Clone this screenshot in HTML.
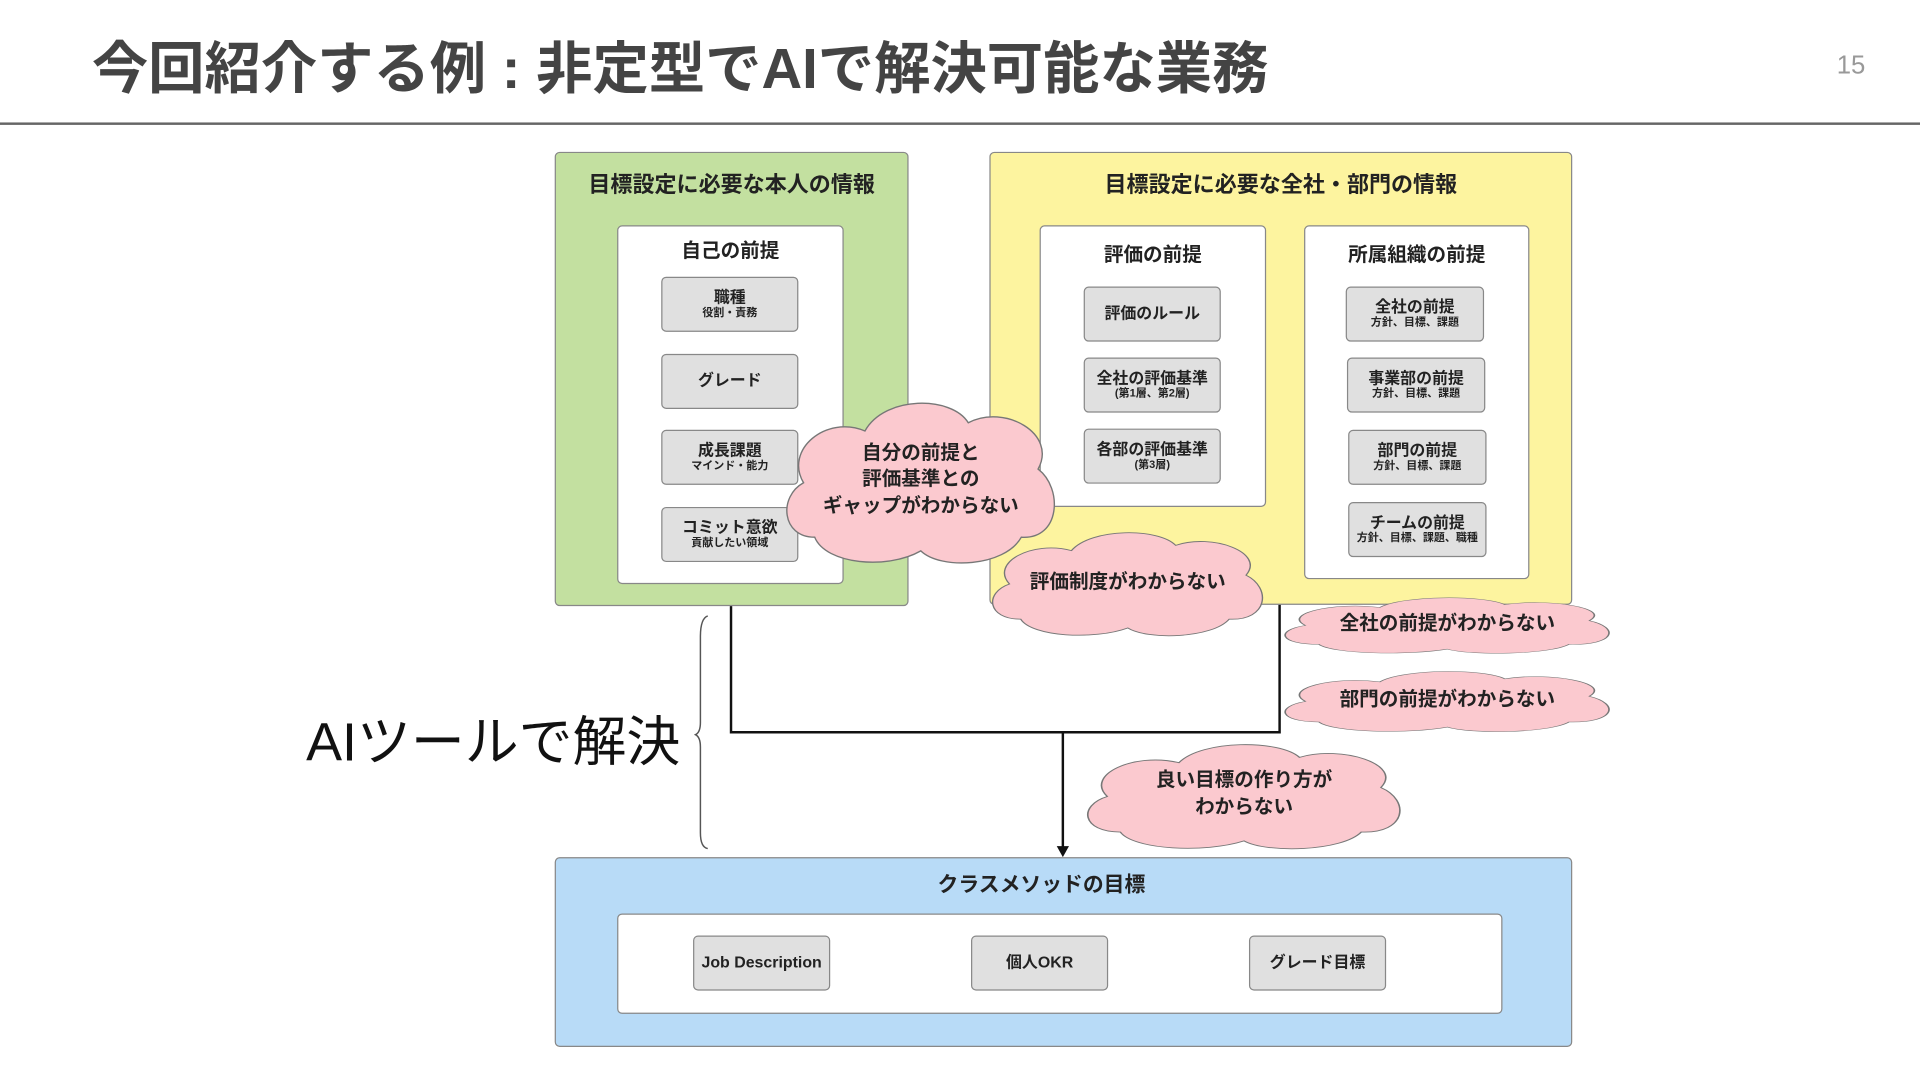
<!DOCTYPE html>
<html><head><meta charset="utf-8">
<style>
html,body{margin:0;padding:0;background:#fff;overflow:hidden;}
#s{position:absolute;left:0;top:0;width:1568px;height:882px;transform:scale(1.22449);transform-origin:0 0;font-family:"Liberation Sans","Noto Sans CJK JP",sans-serif;}
.a{position:absolute;box-sizing:border-box;}
.box{border:1.3px solid #888;border-radius:4px;}
.t{position:absolute;left:0;right:0;text-align:center;font-weight:bold;color:#222;}
.g{position:absolute;box-sizing:border-box;background:#e0e0e0;border:1.3px solid #888;border-radius:4px;display:flex;flex-direction:column;align-items:center;justify-content:center;font-weight:bold;font-size:13px;color:#222;line-height:1.1;}
.g small{font-size:9px;font-weight:bold;}
.c{position:absolute;}
.c svg{position:absolute;left:0;top:0;width:100%;height:100%;}
.c div{position:absolute;left:0;right:0;top:0;bottom:0;display:flex;align-items:center;justify-content:center;text-align:center;font-weight:bold;font-size:16px;color:#222;line-height:1.35;}
</style></head><body>
<div id="s">
<div class="a" style="left:75px;top:20px;font-size:46px;font-weight:bold;color:#444;white-space:nowrap;">今回紹介する例 : 非定型でAIで解決可能な業務</div>
<div class="a" style="left:1500px;top:42px;font-size:21px;color:#999;">15</div>
<div class="a" style="left:0;top:100px;width:1568px;height:1.5px;background:#666;"></div>

<!-- green -->
<div class="a box" style="left:453px;top:124px;width:289px;height:371px;background:#c3e0a0;"></div>
<div class="t" style="left:453px;width:289px;right:auto;top:137px;font-size:18px;">目標設定に必要な本人の情報</div>
<div class="a box" style="left:504px;top:184px;width:185px;height:293px;background:#fff;"></div>
<div class="t" style="left:504px;width:185px;right:auto;top:191px;font-size:16px;">自己の前提</div>
<div class="g" style="left:540px;top:226px;width:112px;height:45px;">職種<small>役割・責務</small></div>
<div class="g" style="left:540px;top:289px;width:112px;height:45px;">グレード</div>
<div class="g" style="left:540px;top:351px;width:112px;height:45px;">成長課題<small>マインド・能力</small></div>
<div class="g" style="left:540px;top:414px;width:112px;height:45px;">コミット意欲<small>貢献したい領域</small></div>

<!-- yellow -->
<div class="a box" style="left:808px;top:124px;width:476px;height:370px;background:#fdf49f;"></div>
<div class="t" style="left:808px;width:476px;right:auto;top:137px;font-size:18px;">目標設定に必要な全社・部門の情報</div>
<div class="a box" style="left:849px;top:184px;width:185px;height:230px;background:#fff;"></div>
<div class="t" style="left:849px;width:185px;right:auto;top:194px;font-size:16px;">評価の前提</div>
<div class="g" style="left:885px;top:234px;width:112px;height:45px;">評価のルール</div>
<div class="g" style="left:885px;top:292px;width:112px;height:45px;">全社の評価基準<small>(第1層、第2層)</small></div>
<div class="g" style="left:885px;top:350px;width:112px;height:45px;">各部の評価基準<small>(第3層)</small></div>
<div class="a box" style="left:1065px;top:184px;width:184px;height:289px;background:#fff;"></div>
<div class="t" style="left:1065px;width:184px;right:auto;top:194px;font-size:16px;">所属組織の前提</div>
<div class="g" style="left:1099px;top:234px;width:113px;height:45px;">全社の前提<small>方針、目標、課題</small></div>
<div class="g" style="left:1100px;top:292px;width:113px;height:45px;">事業部の前提<small>方針、目標、課題</small></div>
<div class="g" style="left:1101px;top:351px;width:113px;height:45px;">部門の前提<small>方針、目標、課題</small></div>
<div class="g" style="left:1101px;top:410px;width:113px;height:45px;">チームの前提<small>方針、目標、課題、職種</small></div>

<!-- connectors -->
<svg class="a" style="left:0;top:0;" width="1568" height="882">
<path d="M597 495 V598 H1045 V494" fill="none" stroke="#111" stroke-width="2"/>
<path d="M868 598 V693" stroke="#111" stroke-width="2"/>
<path d="M863 691 L873 691 L868 700 Z" fill="#111"/>
<path d="M578 503 Q572 505 572 520 L572 590 Q572 598 568 600 Q572 602 572 610 L572 680 Q572 692 578 693" fill="none" stroke="#555" stroke-width="1.2"/>
</svg>
<div class="a" style="left:250px;top:570px;font-size:44px;color:#111;white-space:nowrap;">AIツールで解決</div>

<!-- blue -->
<div class="a box" style="left:453px;top:700px;width:831px;height:155px;background:#b8dbf7;"></div>
<div class="t" style="left:453px;width:795px;right:auto;top:708px;font-size:17px;">クラスメソッドの目標</div>
<div class="a box" style="left:504px;top:746px;width:723px;height:82px;background:#fff;"></div>
<div class="g" style="left:566px;top:764px;width:112px;height:45px;">Job Description</div>
<div class="g" style="left:793px;top:764px;width:112px;height:45px;">個人OKR</div>
<div class="g" style="left:1020px;top:764px;width:112px;height:45px;">グレード目標</div>

<!-- clouds -->
<svg width="0" height="0" style="position:absolute"><defs>
<path id="cl" d="M12 52 C0 52 -1 37 8 32 C1 20 16 7 30 13 C37 0 61 0 67 10 C80 3 99 14 92 27 C101 34 100 53 86 52 C80 63 57 64 50 57 C38 64 16 62 12 52 Z"/>
</defs></svg>
<div class="c" style="left:638px;top:323px;width:228px;height:138px;"><svg viewBox="0 0 100 62" preserveAspectRatio="none"><use href="#cl" fill="#fbc9cf" stroke="#777" stroke-width="0.5" vector-effect="non-scaling-stroke"/></svg><div>自分の前提と<br>評価基準との<br>ギャップがわからない</div></div>
<div class="c" style="left:806px;top:431px;width:230px;height:89px;"><svg viewBox="0 0 100 62" preserveAspectRatio="none"><use href="#cl" fill="#fbc9cf" stroke="#777" stroke-width="0.5" vector-effect="non-scaling-stroke"/></svg><div>評価制度がわからない</div></div>
<div class="c" style="left:1044px;top:486px;width:276px;height:48px;"><svg viewBox="0 0 100 62" preserveAspectRatio="none"><use href="#cl" fill="#fbc9cf" stroke="#777" stroke-width="0.5" vector-effect="non-scaling-stroke"/></svg><div>全社の前提がわからない</div></div>
<div class="c" style="left:1044px;top:546px;width:276px;height:52px;"><svg viewBox="0 0 100 62" preserveAspectRatio="none"><use href="#cl" fill="#fbc9cf" stroke="#777" stroke-width="0.5" vector-effect="non-scaling-stroke"/></svg><div>部門の前提がわからない</div></div>
<div class="c" style="left:883px;top:604px;width:266px;height:90px;"><svg viewBox="0 0 100 62" preserveAspectRatio="none"><use href="#cl" fill="#fbc9cf" stroke="#777" stroke-width="0.5" vector-effect="non-scaling-stroke"/></svg><div>良い目標の作り方が<br>わからない</div></div>
</div>
</body></html>
